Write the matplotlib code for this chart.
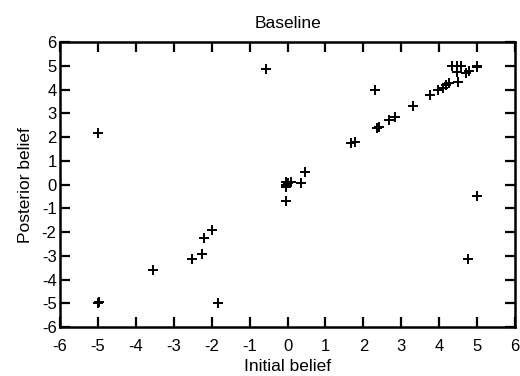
import matplotlib
matplotlib.use("Agg")
import matplotlib.pyplot as plt

plt.rcParams['font.family'] = ['Liberation Sans', 'DejaVu Sans']
plt.rcParams['axes.unicode_minus'] = False

# initial vs posterior belief
initial = [-5.0, -5.0, -4.98, -3.56, -2.52, -2.25, -2.2, -1.98, -1.83,
           -0.58, -0.05, -0.03, -0.04, 0.1, 0.02, -0.03, 0.35, 0.45,
           1.68, 1.78, 2.32, 2.35, 2.40, 2.68, 2.84, 3.30, 3.77,
           3.98, 4.09, 4.18, 4.25, 4.49, 4.35, 4.46, 4.57, 4.48,
           4.70, 4.79, 5.0, 5.0, 5.0, 4.77]
posterior = [2.16, -5.0, -4.95, -3.6, -3.13, -2.93, -2.24, -1.92, -5.0,
             4.86, 0.12, 0.0, -0.1, 0.1, 0.05, -0.68, 0.05, 0.52,
             1.76, 1.8, 3.98, 2.37, 2.43, 2.72, 2.86, 3.31, 3.77,
             4.0, 4.08, 4.19, 4.26, 4.33, 4.99, 4.99, 4.99, 4.75,
             4.68, 4.79, 5.0, 4.95, -0.48, -3.15]
ticks = list(range(-6, 7))

fig = plt.figure(figsize=(5.2, 3.76), dpi=100)
ax = fig.add_axes([0.1154, 0.130, 0.875, 0.758])

ax.plot(initial, posterior, linestyle='none', marker='+', color='black',
        markersize=7, markeredgewidth=1.4)

ax.set_xlim(-6, 6)
ax.set_ylim(-6, 6)
ax.set_xticks(ticks)
ax.set_yticks(ticks)
ax.tick_params(direction='in', length=7, width=1.6, top=True, right=True,
               labelsize=12)
ax.tick_params(axis='x', pad=8.5)
ax.tick_params(axis='y', pad=2.5)
for s in ax.spines.values():
    s.set_linewidth(1.8)

ax.set_title("Baseline", fontsize=12.5, pad=10)
ax.set_xlabel("Initial belief", fontsize=12.5, labelpad=4)
ax.set_ylabel("Posterior belief", fontsize=12.5, labelpad=6)

fig.savefig("out.png", dpi=100)
